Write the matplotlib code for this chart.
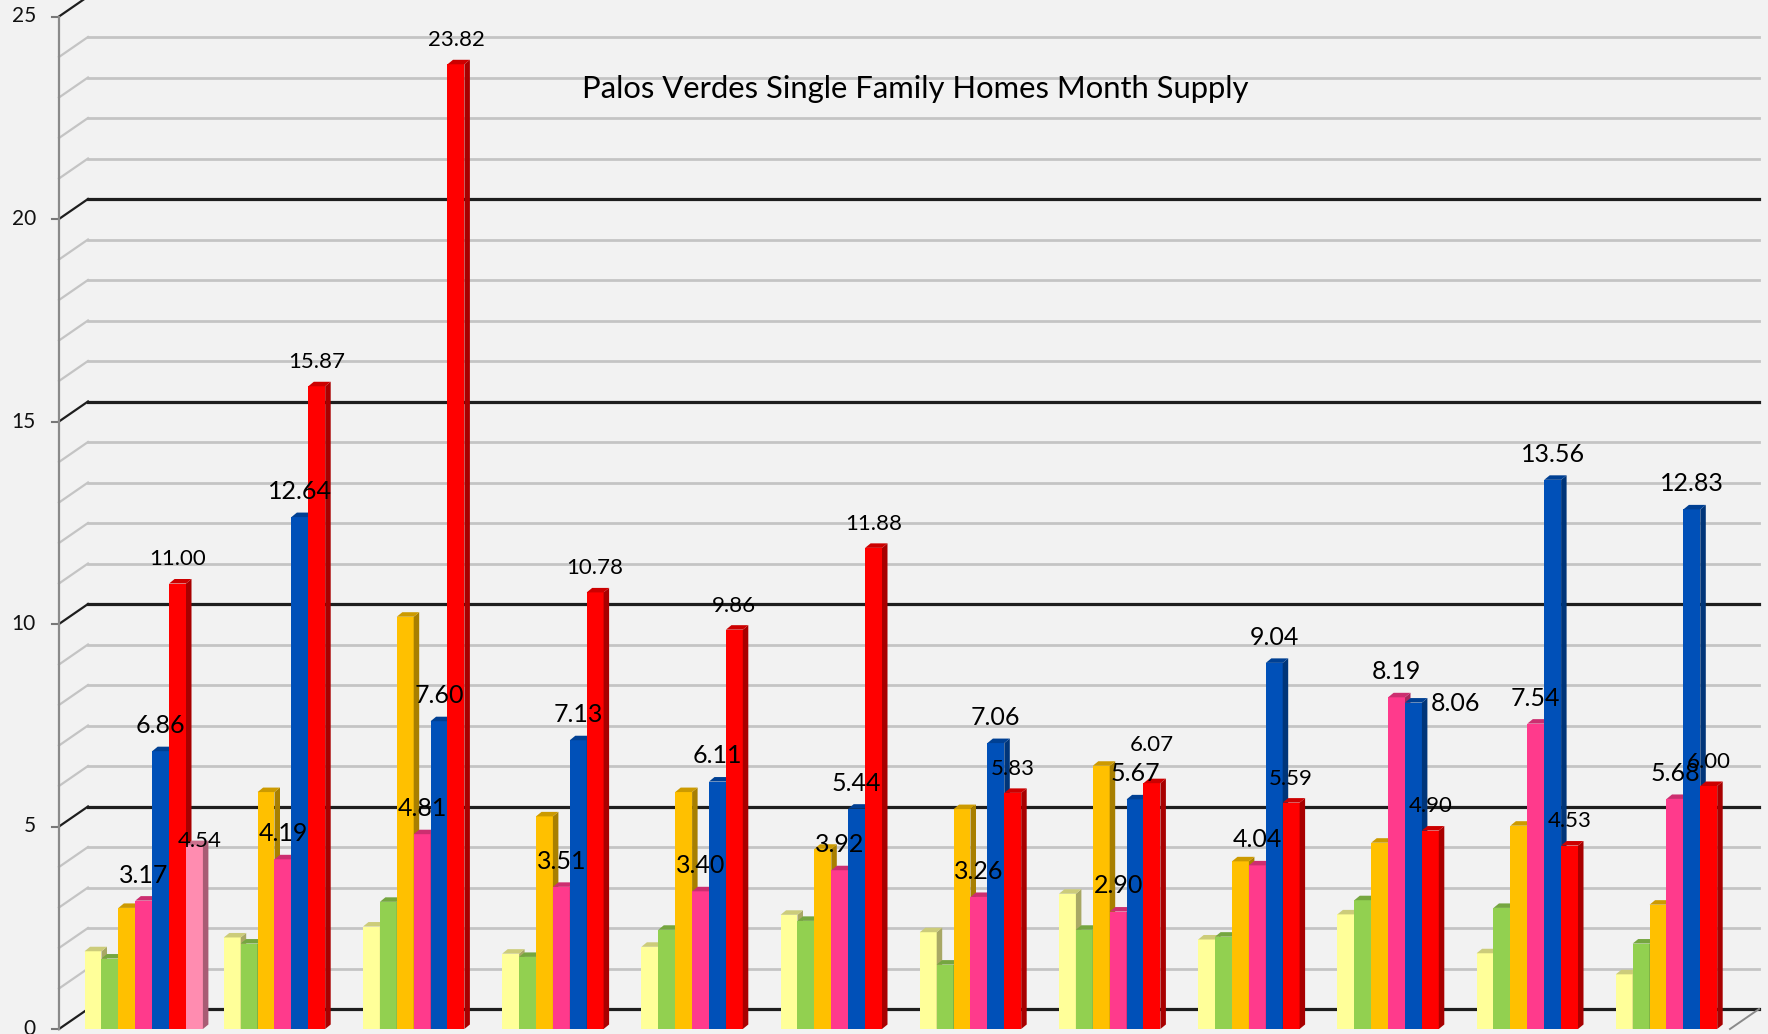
import numpy as np
import matplotlib.pyplot as plt
from matplotlib.patches import Polygon
from matplotlib.colors import to_rgb

plt.rcParams['font.family'] = ['Lato', 'DejaVu Sans']

# twelve months, seven series (last one only has the first month)
months = ['Jan', 'Feb', 'Mar', 'Apr', 'May', 'Jun', 'Jul', 'Aug', 'Sep', 'Oct', 'Nov', 'Dec']
s_yellow = [1.92, 2.26, 2.53, 1.86, 2.03, 2.82, 2.39, 3.34, 2.21, 2.83, 1.87, 1.35]
s_green = [1.74, 2.11, 3.14, 1.78, 2.45, 2.67, 1.59, 2.45, 2.28, 3.18, 2.99, 2.11]
s_orange = [2.99, 5.85, 10.18, 5.25, 5.85, 4.45, 5.43, 6.50, 4.14, 4.60, 5.02, 3.07]
s_pink = [3.17, 4.19, 4.81, 3.51, 3.40, 3.92, 3.26, 2.90, 4.04, 8.19, 7.54, 5.68]
s_blue = [6.86, 12.64, 7.60, 7.13, 6.11, 5.44, 7.06, 5.67, 9.04, 8.06, 13.56, 12.83]
s_red = [11.00, 15.87, 23.82, 10.78, 9.86, 11.88, 5.83, 6.07, 5.59, 4.90, 4.53, 6.00]
s_lightpink = [4.54] + [np.nan] * 11

series = [s_yellow, s_green, s_orange, s_pink, s_blue, s_red, s_lightpink]
colors = ['#ffff99', '#92d050', '#ffc000', '#ff3a8c', '#0050b8', '#ff0000', '#ff8cb0']
labelled = {3: 18, 4: 18, 5: 16, 6: 16}   # series index -> label font size
# a few labels that Excel pushed aside
label_shift = {(6, 0): (4, -14), (4, 9): (30, -19), (5, 7): (0, 10)}

title = 'Palos Verdes Single Family Homes Month Supply'

W, H = 1768, 1034
BG = '#f2f2f2'
GX, X0 = 139.2, 84.6      # px per month group, px of first group
YS, Y0 = 40.5, 1029       # px per unit, px (from top) of zero
SLOT = 16.9 / GX
BX, BY = 5.5 / GX, 4.5 / YS   # bar depth
WX, WY = 29 / GX, 20 / YS     # wall depth
FRONT_X = (59 - X0) / GX
RIGHT_X = (1759 - X0) / GX


def shade(c, f):
    r, g, b = to_rgb(c)
    return (r * f, g * f, b * f)


fig = plt.figure(figsize=(W / 100, H / 100), dpi=100)
fig.patch.set_facecolor(BG)
ax = fig.add_axes([0, 0, 1, 1])
ax.set_xlim(-X0 / GX, (W - X0) / GX)
ax.set_ylim((Y0 - H) / YS, Y0 / YS)
ax.axis('off')

# back wall grid + the slanted lines back to the front axis
for v in range(0, 26):
    major = v % 5 == 0
    col = '#1e1e1e' if major else '#c4c4c4'
    lw = 2.3 if major else 2.0
    ax.plot([FRONT_X + WX, RIGHT_X], [v + WY, v + WY], color=col, lw=lw, zorder=1)
    ax.plot([FRONT_X, FRONT_X + WX], [v, v + WY], color=col, lw=1.6, zorder=1)
    if major:
        ax.plot([FRONT_X - 7 / GX, FRONT_X], [v, v], color='#777777', lw=1.5, zorder=1)
        ax.text((36 - X0) / GX, v, str(v), ha='right', va='center', fontsize=15, color='#111111')
ax.plot([FRONT_X, FRONT_X], [0, 25], color='#8a8a8a', lw=1.6, zorder=1)
ax.plot([RIGHT_X, RIGHT_X - WX], [WY, 0], color='#8a8a8a', lw=1.4, zorder=1)

x_groups = np.arange(len(months))
for j, (vals, c) in enumerate(zip(series, colors)):
    vals = np.array(vals, dtype=float)
    xs = x_groups + j * SLOT
    ok = ~np.isnan(vals)
    for i in np.where(ok)[0]:
        z = 3 + (i * 7 + j) * 0.1
        x0, x1, top = xs[i], xs[i] + SLOT, vals[i]
        ax.bar(x0, top, width=SLOT, align='edge', color=c, lw=0, zorder=z)
        side = Polygon([(x1, 0), (x1 + BX, BY), (x1 + BX, top + BY), (x1, top)],
                       closed=True, facecolor=shade(c, 0.66), lw=0, zorder=z + 0.05)
        cap = Polygon([(x0, top), (x1, top), (x1 + BX, top + BY), (x0 + BX, top + BY)],
                      closed=True, facecolor=shade(c, 0.8), lw=0, zorder=z + 0.05)
        ax.add_patch(side)
        ax.add_patch(cap)
        if j in labelled:
            dx, dy = label_shift.get((j, i), (0, 0))
            ax.annotate(f'{top:.2f}', (x0 + SLOT / 2, top), xytext=(dx, 13 + dy),
                        textcoords='offset points', ha='center', va='baseline',
                        fontsize=labelled[j], color='black', zorder=200)

fig.text(915 / W, 1 - 98 / H, title, ha='center', va='baseline', fontsize=22.3, color='black')

fig.savefig('out.png', dpi=100, facecolor=BG)
